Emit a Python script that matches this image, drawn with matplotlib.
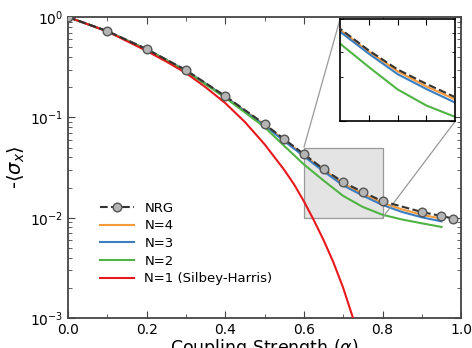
import numpy as np
import matplotlib
matplotlib.use('Agg')
import matplotlib.pyplot as plt
from mpl_toolkits.axes_grid1.inset_locator import mark_inset

# -------------------------
# Data
# -------------------------
alpha_nrg = [0.0, 0.1, 0.2, 0.3, 0.4, 0.5, 0.55, 0.6, 0.65, 0.7, 0.75, 0.8, 0.9, 0.95, 0.98]
sx_nrg = [1.0, 0.725, 0.48, 0.296, 0.163, 0.0858, 0.0608, 0.043, 0.0305, 0.0226,
          0.018, 0.0146, 0.0114, 0.0104, 0.0098]

alpha_n = [0.0, 0.1, 0.2, 0.3, 0.4, 0.5, 0.55, 0.6, 0.65, 0.7, 0.75, 0.8, 0.85, 0.9, 0.95]
sx_n4 = [1.0, 0.722, 0.478, 0.294, 0.161, 0.0845, 0.0595, 0.0422, 0.0300, 0.0220,
         0.0173, 0.0141, 0.0121, 0.0107, 0.0098]
sx_n3 = [1.0, 0.721, 0.477, 0.293, 0.160, 0.083, 0.058, 0.041, 0.029, 0.021,
         0.0166, 0.0134, 0.0114, 0.0101, 0.0092]
sx_n2 = [1.0, 0.72, 0.475, 0.29, 0.157, 0.080, 0.052, 0.034, 0.0235, 0.0165,
         0.0128, 0.0107, 0.0096, 0.0088, 0.0081]

alpha_n1 = [0.0, 0.1, 0.2, 0.25, 0.3, 0.35, 0.4, 0.45, 0.5, 0.55, 0.575, 0.6,
            0.625, 0.65, 0.675, 0.7, 0.725, 0.75]
sx_n1 = [1.0, 0.72, 0.46, 0.36, 0.277, 0.2, 0.139, 0.09, 0.054, 0.030, 0.0215, 0.0146,
         0.0095, 0.006, 0.0036, 0.002, 0.001, 0.0005]

c_n4 = '#f79a3a'
c_n3 = '#3b7dc0'
c_n2 = '#4fb443'
c_n1 = '#e8191c'

plt.rcParams['font.family'] = 'DejaVu Sans'

fig = plt.figure(figsize=(4.72, 3.48), dpi=100)
ax = fig.add_axes([0.144, 0.086, 0.833, 0.865])

ax.plot(alpha_nrg, sx_nrg, '--', color='#333333', lw=1.5, marker='o', markersize=6.2,
        markerfacecolor='#b5b5b5', markeredgecolor='#555555', markeredgewidth=1.0,
        label='NRG', zorder=6)
ax.plot(alpha_n, sx_n4, color=c_n4, lw=1.5, label='N=4', zorder=4)
ax.plot(alpha_n, sx_n3, color=c_n3, lw=1.5, label='N=3', zorder=4)
ax.plot(alpha_n, sx_n2, color=c_n2, lw=1.5, label='N=2', zorder=4)
ax.plot(alpha_n1, sx_n1, color=c_n1, lw=1.5, label='N=1 (Silbey-Harris)', zorder=4)

ax.set_yscale('log')
ax.set_xlim(0, 1)
ax.set_ylim(1e-3, 1)
ax.set_xticks([0.0, 0.2, 0.4, 0.6, 0.8, 1.0])
ax.set_xticks([0.1, 0.3, 0.5, 0.7, 0.9], minor=True)
ax.tick_params(which='both', direction='in', top=True, right=True, labelsize=10, color='#444444')
ax.tick_params(which='major', length=5)
ax.tick_params(which='minor', length=3)
for s in ax.spines.values():
    s.set_linewidth(1.3)
    s.set_color('#444444')

ax.set_xlabel(r'Coupling Strength ($\alpha$)', fontsize=12.5, labelpad=0)
ax.set_ylabel(r'-$\langle\sigma_x\rangle$', fontsize=14, labelpad=2)

ax.legend(loc='lower left', bbox_to_anchor=(0.05, 0.07), frameon=False, fontsize=9.5,
          handlelength=2.6, labelspacing=0.35)

# -------------------------
# Inset
# -------------------------
axins = ax.inset_axes([0.692, 0.654, 0.293, 0.339])
axins.plot(alpha_nrg, sx_nrg, '--', color='#333333', lw=1.5, zorder=5)
axins.plot(alpha_n, sx_n4, color=c_n4, lw=1.5)
axins.plot(alpha_n, sx_n3, color=c_n3, lw=1.5)
axins.plot(alpha_n, sx_n2, color=c_n2, lw=1.5)
axins.set_yscale('log')
axins.set_xlim(0.6, 0.8)
axins.set_ylim(0.01, 0.05)
axins.set_xticks([0.65, 0.7, 0.75])
axins.tick_params(which='both', direction='in', top=True, right=True,
                  labelbottom=False, labelleft=False, length=4)
axins.tick_params(which='minor', length=2)
axins.yaxis.set_minor_formatter(matplotlib.ticker.NullFormatter())
axins.yaxis.set_major_formatter(matplotlib.ticker.NullFormatter())
for s in axins.spines.values():
    s.set_linewidth(1.2)

mark_inset(ax, axins, loc1=2, loc2=4, fc='#e4e4e4', ec='#999999', lw=0.9, zorder=1)

fig.savefig('out.png', dpi=100)
